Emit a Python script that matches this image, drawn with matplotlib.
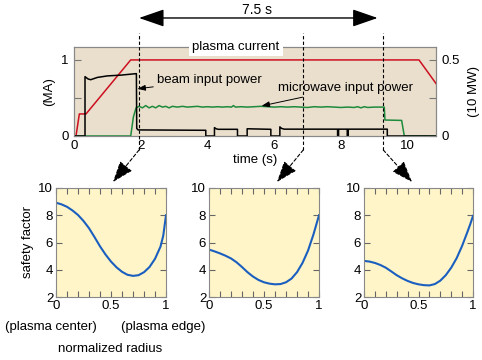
import matplotlib
matplotlib.use("Agg")
import matplotlib.pyplot as plt
from matplotlib.patches import ConnectionPatch

plt.rcParams['font.family'] = ['Liberation Sans', 'DejaVu Sans']
FS = 9.5

# ---------------- data ----------------
# plasma current (MA)
t_ip = [0, 0.06, 0.16, 0.36, 1.70, 10.34, 10.85]
ip = [0, 0, 0.29, 0.29, 1.0, 1.0, 0.69]

# beam input power (in left-axis units; 1.0 = 5 MW)
t_nb = [0, 0.33, 0.33, 0.42, 0.5, 0.7, 1.0, 1.4, 1.87, 1.88, 1.92, 3.95, 3.95, 4.21, 4.21, 4.26,
        4.32, 4.9, 4.9, 5.19, 5.19, 5.9, 5.9, 6.17, 6.17, 6.22, 6.3, 7.9, 7.9, 7.93, 7.93,
        8.19, 8.19, 8.22, 8.22, 9.39, 9.39, 10.85]
nb = [0, 0, 0.78, 0.75, 0.74, 0.77, 0.79, 0.80, 0.82, 0.10, 0.08, 0.075, 0, 0, 0.11, 0.095,
      0.088, 0.088, 0, 0, 0.095, 0.088, 0, 0, 0.12, 0.1, 0.09, 0.09, 0, 0, 0.09,
      0.09, 0, 0, 0.09, 0.09, 0, 0]

# microwave input power (left-axis units)
t_mw = [0, 1.70, 1.78, 1.86, 1.95, 2.05, 2.15, 2.25, 2.35, 2.45, 2.55, 2.65, 2.75, 2.85,
        2.95, 3.1, 3.25, 3.4, 3.55, 3.7, 3.85, 4.0, 4.15, 4.3, 4.45, 4.6, 4.72, 4.78, 4.84,
        5.0, 5.2, 5.4, 5.6, 5.8, 6.0, 6.2, 6.4, 6.6, 6.8, 7.0, 7.2, 7.4, 7.6, 7.8, 8.0, 8.2,
        8.4, 8.5, 8.6, 8.7, 8.8, 9.0, 9.2, 9.3, 9.32, 9.82, 9.9, 10.85]
mw = [0, 0, 0.25, 0.37, 0.39, 0.37, 0.40, 0.37, 0.39, 0.37, 0.40, 0.38, 0.39, 0.37,
      0.39, 0.38, 0.39, 0.38, 0.385, 0.39, 0.38, 0.385, 0.38, 0.385, 0.38, 0.385, 0.38, 0.40, 0.38,
      0.385, 0.38, 0.385, 0.39, 0.385, 0.38, 0.385, 0.38, 0.385, 0.38, 0.375, 0.385, 0.38, 0.385, 0.38, 0.375, 0.38,
      0.375, 0.385, 0.37, 0.385, 0.375, 0.38, 0.38, 0.38, 0.21, 0.205, 0, 0]

# snapshot times of the safety-factor profiles
snap_t = [1.95, 6.87, 9.27]

# safety factor profiles
r = [0, 0.05, 0.1, 0.15, 0.2, 0.25, 0.3, 0.35, 0.4, 0.45, 0.5, 0.55, 0.6, 0.65, 0.7, 0.75,
     0.8, 0.85, 0.9, 0.95, 0.975, 1.0]
q1 = [8.92, 8.8, 8.62, 8.35, 8.02, 7.58, 7.05, 6.4, 5.72, 5.12, 4.6, 4.18, 3.85, 3.63, 3.55,
      3.6, 3.82, 4.2, 4.8, 5.7, 6.5, 8.0]
q2 = [5.48, 5.35, 5.2, 5.03, 4.83, 4.55, 4.2, 3.82, 3.5, 3.25, 3.08, 2.98, 2.93, 2.95, 3.08,
      3.35, 3.82, 4.5, 5.4, 6.6, 7.3, 8.0]
q3 = [4.65, 4.6, 4.5, 4.35, 4.15, 3.88, 3.6, 3.37, 3.18, 3.03, 2.93, 2.87, 2.85, 2.95, 3.2,
      3.6, 4.15, 4.85, 5.75, 6.8, 7.35, 7.95]
profiles = [q1, q2, q3]

# ---------------- figure ----------------
W, H = 482, 360
fig = plt.figure(figsize=(W / 100, H / 100), dpi=100)

def rect(x0, y0, x1, y1):
    return [x0 / W, 1 - y1 / H, (x1 - x0) / W, (y1 - y0) / H]

ax = fig.add_axes(rect(74, 47, 436, 136))
ax.set_facecolor('#eadfcc')
ax.plot(t_ip, ip, color='#cc1020', lw=1.1, zorder=3)
ax.plot(t_nb, nb, color='black', lw=1.1, zorder=4)
ax.plot(t_mw, mw, color='#1d8a3c', lw=1.1, zorder=3)
ax.set_xlim(0, 10.85)
ax.set_ylim(0, 1.17)
ax.set_xticks([0, 2, 4, 6, 8, 10])
ax.set_yticks([0, 0.5, 1])
ax.set_yticklabels(['0', '', '1'])
ax.tick_params(axis='x', length=0, labelsize=FS, pad=3)
ax.tick_params(axis='y', direction='in', length=5, color='#777777', labelsize=FS, pad=4)
ax.set_xlabel('time (s)', fontsize=FS, labelpad=1)
ax.set_ylabel('(MA)', fontsize=FS, labelpad=4)
for s in ax.spines.values():
    s.set_color('#888888')
    s.set_linewidth(0.8)

ax2 = ax.twinx()
ax2.set_ylim(0, 0.585)
ax2.set_yticks([0, 0.25, 0.5])
ax2.set_yticklabels(['0', '', '0.5'])
ax2.tick_params(axis='y', direction='in', length=5, color='#777777', labelsize=FS, pad=4)
ax2.set_ylabel('(10 MW)', fontsize=FS, rotation=90, labelpad=6)
for s in ax2.spines.values():
    s.set_color('#888888')
    s.set_linewidth(0.8)

ax2.text(4.85, 1.0, 'plasma current', transform=ax2.get_xaxis_transform(),
         ha='center', va='center', fontsize=FS,
         bbox=dict(facecolor='white', edgecolor='none', boxstyle='square,pad=0.25'),
         zorder=10)

ax.annotate('beam input power', xy=(1.9, 0.62), xytext=(2.5, 0.74),
            fontsize=FS, va='center', ha='left', zorder=6,
            arrowprops=dict(arrowstyle='-|>,head_length=0.5,head_width=0.18',
                            color='black', lw=0.7, shrinkA=1, shrinkB=0))
ax.annotate('microwave input power', xy=(5.62, 0.395), xytext=(6.1, 0.63),
            fontsize=FS, va='center', ha='left', zorder=6,
            arrowprops=dict(arrowstyle='-|>,head_length=0.5,head_width=0.18',
                            color='black', lw=0.7, shrinkA=1, shrinkB=0))

# 7.5 s double arrow
ax.annotate('', xy=(snap_t[0], 1.326), xytext=(9.1, 1.326),
            xycoords=('data', 'axes fraction'), textcoords=('data', 'axes fraction'),
            annotation_clip=False,
            arrowprops=dict(arrowstyle='<|-|>,head_length=1.3,head_width=0.45',
                            color='black', lw=1.0, mutation_scale=12, shrinkA=0, shrinkB=0))
ax.text(5.48, 1.42, '7.5 s', transform=ax.get_xaxis_transform(), ha='center', va='center',
        fontsize=FS + 0.5)

# bottom panels
panel_x = [(56, 166), (209, 319), (364, 473)]
tip_x = [113, 277, 412]
baxes = []
for i, ((x0, x1), q) in enumerate(zip(panel_x, profiles)):
    b = fig.add_axes(rect(x0, 188, x1, 297))
    b.set_facecolor('#fff5c8')
    b.plot(r, q, color='#1a5fc0', lw=1.5)
    b.set_xlim(0, 1)
    b.set_ylim(2, 10)
    b.set_xticks([0, 0.5, 1])
    b.set_xticklabels(['0', '0.5', '1'])
    b.set_xticks([k / 10 for k in range(11)], minor=True)
    b.set_yticks([2, 4, 6, 8, 10])
    b.tick_params(which='both', direction='in', top=True, right=True, length=4,
                  color='#666666', width=0.8, labelsize=FS, pad=2)
    for s in b.spines.values():
        s.set_color('#888888')
        s.set_linewidth(0.8)
    baxes.append(b)

    # dashed connector from top chart to panel
    t = snap_t[i]
    ax2.axvline(t, ymin=-0.157, ymax=1.157, clip_on=False, color='black', lw=0.8,
                ls=(0, (3, 2)), zorder=11)
    tipfrac = ((tip_x[i] - x0) / (x1 - x0), 1 + 6 / 109)
    con = ConnectionPatch(xyA=(t, -0.157), coordsA=ax.get_xaxis_transform(),
                          xyB=tipfrac, coordsB=b.transAxes,
                          arrowstyle='-|>,head_length=1.1,head_width=0.4',
                          mutation_scale=12, color='black', lw=0.8, ls=(0, (3, 2)),
                          shrinkA=0, shrinkB=0)
    fig.add_artist(con)

baxes[0].set_ylabel('safety factor', fontsize=FS, labelpad=3)

fig.text(51 / W, 1 - 327 / H, '(plasma center)', ha='center', va='center', fontsize=FS)
fig.text(163 / W, 1 - 327 / H, '(plasma edge)', ha='center', va='center', fontsize=FS)
fig.text(110 / W, 1 - 349 / H, 'normalized radius', ha='center', va='center', fontsize=FS)

fig.savefig('out.png', dpi=100)
